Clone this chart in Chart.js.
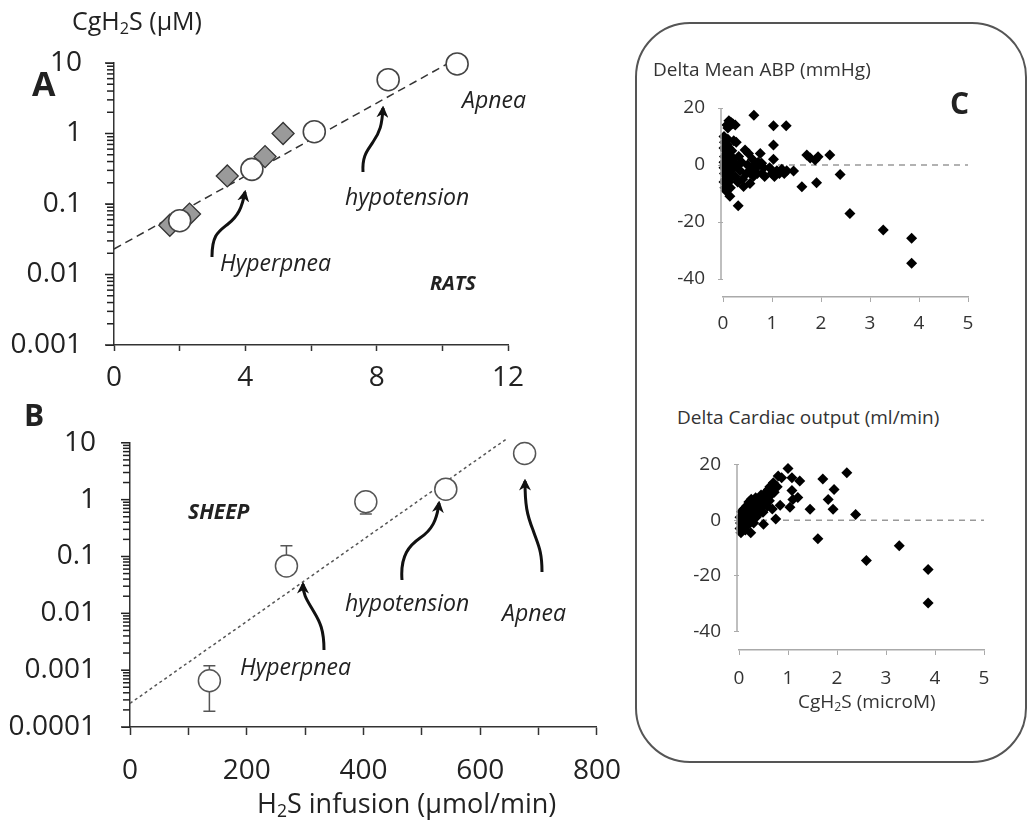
<!DOCTYPE html>
<html>
<head>
<meta charset="utf-8">
<script src="https://cdn.jsdelivr.net/npm/chart.js@4.4.1/dist/chart.umd.min.js"></script>
<style>
  body { margin: 0; background: #fff; width: 1029px; height: 821px; position: relative; overflow: hidden; font-family: "Open Sans", sans-serif; color: #222; }
  .box { position: absolute; }
  .lbl { position: absolute; line-height: 1; white-space: nowrap; }
  .it { font-style: italic; }
  .bi { font-style: italic; font-weight: 700; }
  .b { font-weight: 700; }
  sub { font-size: 0.65em; line-height: 0; vertical-align: -0.25em; }
  #panelC { position: absolute; left: 635px; top: 22px; width: 392px; height: 741px; box-sizing: border-box; border: 2px solid #555; border-radius: 55px; }
  svg { position: absolute; left: 0; top: 0; }
</style>
</head>
<body>
<div id="panelC"></div>

<div class="box" style="left:0;top:0"><canvas id="chartA" width="540" height="400"></canvas></div>
<div class="box" style="left:0;top:400px"><canvas id="chartB" width="640" height="387"></canvas></div>
<div class="box" style="left:640px;top:80px"><canvas id="chartC1" width="370" height="260"></canvas></div>
<div class="box" style="left:650px;top:440px"><canvas id="chartC2" width="370" height="250"></canvas></div>

<!-- labels -->
<div class="lbl" style="left:72px;top:8px;font-size:25px">CgH<sub>2</sub>S (μM)</div>
<div class="lbl b" style="left:32px;top:66px;font-size:34px">A</div>
<div class="lbl b" style="left:24px;top:400px;font-size:30px">B</div>
<div class="lbl b" style="left:950px;top:88px;font-size:30px">C</div>

<div class="lbl it" style="left:220px;top:251px;font-size:23px">Hyperpnea</div>
<div class="lbl it" style="left:345px;top:185px;font-size:23px">hypotension</div>
<div class="lbl it" style="left:462px;top:88px;font-size:23px">Apnea</div>
<div class="lbl bi" style="left:430px;top:273px;font-size:20px">RATS</div>

<div class="lbl bi" style="left:188px;top:501px;font-size:21px">SHEEP</div>
<div class="lbl it" style="left:345px;top:591px;font-size:23px">hypotension</div>
<div class="lbl it" style="left:502px;top:601px;font-size:23px">Apnea</div>
<div class="lbl it" style="left:240px;top:655px;font-size:23px">Hyperpnea</div>
<div class="lbl" style="left:257px;top:789px;font-size:27px">H<sub>2</sub>S infusion (μmol/min)</div>

<div class="lbl" style="left:653px;top:60px;font-size:19px;color:#333">Delta Mean ABP (mmHg)</div>
<div class="lbl" style="left:677px;top:408px;font-size:19px;color:#333">Delta Cardiac output (ml/min)</div>
<div class="lbl" style="left:798px;top:692px;font-size:19px;color:#333">CgH<sub>2</sub>S (microM)</div>

<svg width="1029" height="821">
  <defs>
    <marker id="head" viewBox="0 0 10 10" refX="8" refY="5" markerWidth="4" markerHeight="4" orient="auto">
      <path d="M0,0 L10,5 L0,10 L3,5 z" fill="#111"/>
    </marker>
  </defs>
  <g fill="none" stroke="#111" stroke-width="3" marker-end="url(#head)">
    <path d="M212,257 C212,235 218,232 228,224 C238,216 242,208 245,192"/>
    <path d="M363,172 C362,155 368,150 373,142 C380,132 382,125 383,108"/>
    <path d="M324,650 C324,630 320,622 314,612 C307,600 303,595 303,584"/>
    <path d="M402,580 C400,555 410,545 420,538 C432,530 437,520 439,503"/>
    <path d="M542,572 C542,550 538,545 533,530 C527,515 525,505 525,481"/>
  </g>
</svg>

<script>
// ---- panel A: rats ----
const ratCircleX = [2.0, 4.2, 6.1, 8.35, 10.45];
const ratCircleY = [0.058, 0.31, 1.06, 5.8, 9.7];
const ratDiamondX = [1.7, 2.3, 3.45, 4.6, 5.15];
const ratDiamondY = [0.05, 0.072, 0.25, 0.47, 1.0];
const ratFitX = [0, 10.2];
const ratFitY = [0.023, 10];
const yMajorA = [0.001, 0.01, 0.1, 1, 10];
const xTicksA = [0, 4, 8, 12];

// ---- panel B: sheep ----
const sheepX = [136, 268, 404, 541, 676];
const sheepY = [0.00065, 0.068, 0.92, 1.53, 6.5];
const sheepErrHigh = [0.0012, 0.154, null, null, null];
const sheepErrLow = [0.00019, null, 0.56, null, null];
const sheepFitX = [0, 644];
const sheepFitY = [0.00026, 11.5];
const yMajorB = [0.0001, 0.001, 0.01, 0.1, 1, 10];
const xTicksB = [0, 200, 400, 600, 800];

// ---- panel C: delta mean ABP vs CgH2S ----
const abpX = [0.02,0.03,0.02,0.05,0.03,0.02,0.04,0.02,0.03,0.05,0.02,0.04,0.06,0.08,0.07,0.06,0.08,0.07,0.09,0.1,0.12,0.1,0.12,0.11,0.13,0.12,0.15,0.14,0.16,0.15,0.17,0.18,
  0.08,0.12,0.16,0.2,0.25,0.1,0.22,0.27,0.14,0.31,
  0.2,0.22,0.25,0.28,0.3,0.32,0.35,0.38,0.4,0.42,0.45,0.48,0.5,0.52,0.55,0.57,0.6,0.62,0.65,0.68,0.7,0.72,0.76,0.79,0.8,0.83,0.85,
  0.63,1.03,1.29,1.03,1.03,0.95,1.0,1.05,1.1,1.15,1.2,1.25,1.3,1.44,1.71,1.88,1.94,1.78,2.18,2.39,1.61,1.91,2.59,3.27,3.85,3.85];
const abpY = [10,8,6,5,3,1,0,-1,-3,-5,-6,-8,-9,-7,-4,-2,2,4,7,9,6,3,1,-1,-3,-6,-8,-5,-2,0,3,5,
  14,15.5,15,14.5,14,13,8.5,8,-11,-14.3,
  -1,2,-4,0,-6,3,-2,1,-5,-7.5,5.3,-3,0,4,-6.5,-2,2,-4,0,-1,-3,1,4,0.6,-3,-1,-4,
  17.5,13.8,13.8,7,2,-1,-3,-4,-2,-3,-1.5,-3,-2,-2.1,3.5,1.8,2.9,2.5,3.5,-3.3,-7.6,-6.2,-17,-22.8,-25.7,-34.5];

// ---- panel C: delta cardiac output vs CgH2S ----
const coX = [0.02,0.03,0.02,0.04,0.05,0.06,0.07,0.08,0.1,0.1,0.12,0.13,0.15,0.15,0.17,0.18,0.2,0.2,0.22,0.24,0.25,0.26,0.28,0.3,0.3,0.32,0.34,0.35,0.37,0.38,0.4,0.42,0.44,0.45,0.47,0.49,0.5,0.52,0.55,0.56,0.58,0.6,0.62,0.63,0.65,0.68,0.7,0.72,0.75,0.78,0.8,0.84,0.87,
  1.0,1.04,1.08,1.08,1.1,1.2,1.24,1.45,1.71,1.82,1.94,1.92,2.2,2.38,1.61,2.6,3.27,3.86,3.86];
const coY = [1,-1,-3,-4.5,3,0,-2,2,4,-1,1,-3.5,5,2,-2,3,6.5,0,4,-4.5,7.5,2,5,-1,3.5,6,8,1,4,6,2.5,7,4.5,9,3,2.8,-1.5,6,10,8,5,11,7,12,9,4,13.4,10,0.4,12,15.8,5.3,15.2,
  18.5,4.6,15.2,10.6,7.4,8.1,14,3.9,14.8,7.4,11,3.9,17,2,-6.7,-14.5,-9.2,-17.7,-29.7];
const zeroLineX = [0, 5];
const yTicksC = [20, 0, -20, -40];
const xTicksC = [0, 1, 2, 3, 4, 5];

const pts = (xs, ys) => xs.map((x, i) => ({ x: x, y: ys[i] }));

// minor positions 1..9 inside each decade, used for the log tick marks
function logTicks(majors) {
  const out = [];
  majors.forEach((m, i) => {
    out.push(m);
    if (i < majors.length - 1) {
      for (let k = 2; k <= 9; k++) out.push(+(m * k).toPrecision(3));
    }
  });
  return out;
}

// draws the comb of log tick marks on the left of a y axis
const logComb = {
  id: "logComb",
  afterDraw(chart, args, opts) {
    const { ctx, scales } = chart;
    const x0 = scales.y.right;
    ctx.save();
    ctx.strokeStyle = "#222";
    ctx.lineWidth = 1.5;
    logTicks(opts.majors).forEach((v) => {
      const py = scales.y.getPixelForValue(v);
      const len = opts.majors.includes(v) ? 9 : 7;
      ctx.beginPath();
      ctx.moveTo(x0 - len, py);
      ctx.lineTo(x0, py);
      ctx.stroke();
    });
    ctx.restore();
  },
};

const bigFont = { family: "Open Sans", size: 28 };
const smallFont = { family: "Open Sans", size: 19 };

// ---------- chart A ----------
new Chart(document.getElementById("chartA"), {
  type: "scatter",
  data: {
    datasets: [
      { data: pts(ratCircleX, ratCircleY), pointStyle: "circle", pointRadius: 11, backgroundColor: "#fff", borderColor: "#444", borderWidth: 1.6, clip: false },
      { data: pts(ratDiamondX, ratDiamondY), pointStyle: "rectRot", pointRadius: 11, backgroundColor: "#9a9a9a", borderColor: "#333", borderWidth: 1.3, clip: false },
      { type: "line", data: pts(ratFitX, ratFitY), borderColor: "#333", borderWidth: 1.5, borderDash: [8, 5], pointRadius: 0, fill: false, clip: false },
    ],
  },
  options: {
    responsive: false,
    animation: false,
    layout: { padding: { top: 63, right: 32, bottom: 0, left: 0 } },
    plugins: { legend: { display: false }, tooltip: { enabled: false }, logComb: { majors: yMajorA } },
    scales: {
      x: {
        type: "linear", min: 0, max: 12,
        ticks: { stepSize: 2, autoSkip: false, source: "ticks", maxRotation: 0, font: bigFont, color: "#222", padding: 10,
          callback: (v) => (xTicksA.includes(v) ? v : "") },
        grid: { drawOnChartArea: false, tickLength: 6, tickColor: "#333", tickWidth: 1.5 },
        border: { color: "#333", width: 1.5 },
        afterFit: (s) => { s.height = 55; },
      },
      y: {
        type: "logarithmic", min: 0.001, max: 10,
        afterBuildTicks: (s) => { s.ticks = yMajorA.map((v) => ({ value: v, major: true })); },
        ticks: { autoSkip: false, source: "ticks", font: bigFont, color: "#222", padding: 24,
          callback: (v) => String(v) },
        grid: { drawOnChartArea: false, tickLength: 8, tickColor: "#333" },
        border: { color: "#333", width: 1.5 },
        afterFit: (s) => { s.width = 114; },
      },
    },
  },
  plugins: [logComb],
});

// ---------- chart B ----------
const errorBars = {
  id: "errorBars",
  beforeDatasetsDraw(chart) {
    const { ctx, scales } = chart;
    ctx.save();
    ctx.strokeStyle = "#555";
    ctx.lineWidth = 1.5;
    sheepX.forEach((xv, i) => {
      const px = scales.x.getPixelForValue(xv);
      const py = scales.y.getPixelForValue(sheepY[i]);
      [sheepErrHigh[i], sheepErrLow[i]].forEach((e) => {
        if (e == null) return;
        const pe = scales.y.getPixelForValue(e);
        ctx.beginPath();
        ctx.moveTo(px, py);
        ctx.lineTo(px, pe);
        ctx.moveTo(px - 6, pe);
        ctx.lineTo(px + 6, pe);
        ctx.stroke();
      });
    });
    ctx.restore();
  },
};

new Chart(document.getElementById("chartB"), {
  type: "scatter",
  data: {
    datasets: [
      { data: pts(sheepX, sheepY), pointStyle: "circle", pointRadius: 11, backgroundColor: "#fff", borderColor: "#555", borderWidth: 1.5, clip: false },
      { type: "line", data: pts(sheepFitX, sheepFitY), borderColor: "#555", borderWidth: 1.5, borderDash: [3, 3], pointRadius: 0, fill: false, clip: false },
    ],
  },
  options: {
    responsive: false,
    animation: false,
    layout: { padding: { top: 33, right: 43, bottom: 0, left: 0 } },
    plugins: { legend: { display: false }, tooltip: { enabled: false }, logComb: { majors: yMajorB } },
    scales: {
      x: {
        type: "linear", min: 0, max: 800,
        ticks: { stepSize: 100, autoSkip: false, source: "ticks", maxRotation: 0, font: bigFont, color: "#222", padding: 19,
          callback: (v) => (xTicksB.includes(v) ? v : "") },
        grid: { drawOnChartArea: false, tickLength: 8, tickColor: "#333", tickWidth: 1.5 },
        border: { color: "#333", width: 1.5 },
        afterFit: (s) => { s.height = 60; },
      },
      y: {
        type: "logarithmic", min: 0.0001, max: 10,
        afterBuildTicks: (s) => { s.ticks = yMajorB.map((v) => ({ value: v, major: true })); },
        ticks: { autoSkip: false, source: "ticks", font: bigFont, color: "#222", padding: 26,
          callback: (v) => String(v) },
        grid: { drawOnChartArea: false, tickLength: 8, tickColor: "#333" },
        border: { color: "#333", width: 1.5 },
        afterFit: (s) => { s.width = 130; },
      },
    },
  },
  plugins: [errorBars, logComb],
});

// ---------- panel C charts ----------
const shortYAxis = {
  id: "shortYAxis",
  afterDraw(chart) {
    const { ctx, scales, chartArea } = chart;
    const top = scales.y.getPixelForValue(yTicksC[0]);
    const bottom = scales.y.getPixelForValue(yTicksC[yTicksC.length - 1]);
    ctx.save();
    ctx.strokeStyle = "#aaa";
    ctx.lineWidth = 1.5;
    ctx.beginPath();
    ctx.moveTo(chartArea.left - 2, top);
    ctx.lineTo(chartArea.left - 2, bottom);
    ctx.stroke();
    ctx.restore();
  },
};

function makeC(id, xs, ys, pad, yWidth, xHeight, yMin, xPad) {
  new Chart(document.getElementById(id), {
    type: "scatter",
    data: {
      datasets: [
        { data: pts(xs, ys), pointStyle: "rectRot", pointRadius: 5.5, backgroundColor: "#000", borderColor: "#000", borderWidth: 0, clip: false },
        { type: "line", data: zeroLineX.map((x) => ({ x: x, y: 0 })), borderColor: "#999", borderWidth: 1.5, borderDash: [6, 5], pointRadius: 0, fill: false },
      ],
    },
    options: {
      responsive: false,
      animation: false,
      layout: { padding: pad },
      plugins: { legend: { display: false }, tooltip: { enabled: false } },
      scales: {
        x: {
          type: "linear", min: 0, max: 5,
          ticks: { stepSize: 1, autoSkip: false, source: "ticks", maxRotation: 0, font: smallFont, color: "#333", padding: xPad,
            callback: (v) => (xTicksC.includes(v) ? v : "") },
          grid: { drawOnChartArea: false, tickLength: 5, tickColor: "#aaa" },
          border: { color: "#aaa", width: 1.5 },
          afterFit: (s) => { s.height = xHeight; },
        },
        y: {
          type: "linear", min: yMin, max: 20,
          ticks: { stepSize: 20, includeBounds: false, autoSkip: false, source: "ticks", font: smallFont, color: "#333", padding: 13,
            callback: (v) => (yTicksC.includes(v) ? v : "") },
          grid: { drawOnChartArea: false, tickLength: 5, tickColor: "#aaa" },
          border: { display: false },
          afterFit: (s) => { s.width = yWidth; },
        },
      },
    },
    plugins: [shortYAxis],
  });
}

makeC("chartC1", abpX, abpY, { top: 28, right: 42, bottom: 0, left: 0 }, 83, 43, -46.3, 10);
makeC("chartC2", coX, coY, { top: 22, right: 36, bottom: 0, left: 0 }, 89, 40, -46.6, 12);
</script>
</body>
</html>
